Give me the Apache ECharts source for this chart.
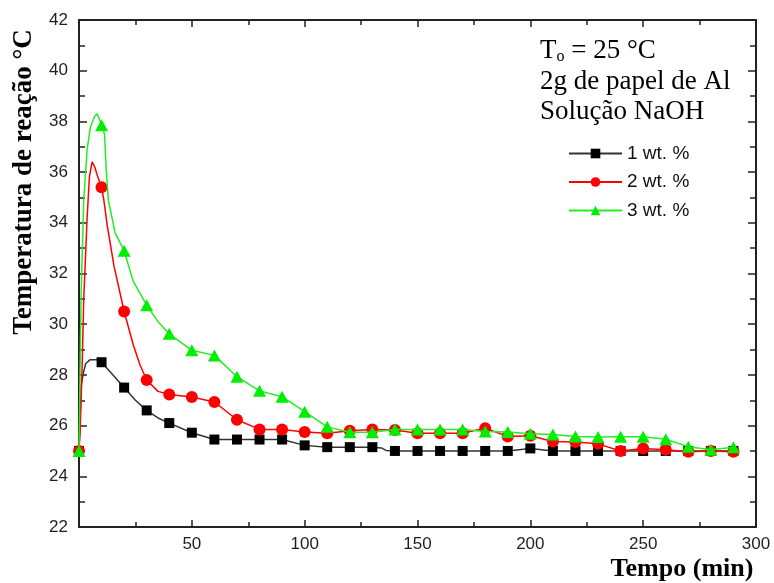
<!DOCTYPE html>
<html><head><meta charset="utf-8">
<script src="https://cdn.jsdelivr.net/npm/echarts@6/dist/echarts.min.js"></script>
<style>html,body{margin:0;padding:0;background:#fff}#c{width:774px;height:583px}</style>
</head><body><div id="c"></div>
<script>
// ---- data ----
const seriesNames = ['1 wt. %', '2 wt. %', '3 wt. %'];
const markerTimes = [0,10,20,30,40,50,60,70,80,90,100,110,120,130,140,150,160,170,180,190,200,210,220,230,240,250,260,270,280,290];
const temp1wt = [25.0,28.5,27.5,26.6,26.1,25.72,25.45,25.45,25.45,25.45,25.22,25.15,25.15,25.15,25.0,25.0,25.0,25.0,25.0,25.0,25.1,25.0,25.0,25.0,25.0,25.0,25.0,25.0,25.0,25.0];
const temp2wt = [25.0,35.4,30.5,27.8,27.23,27.13,26.93,26.23,25.85,25.85,25.75,25.7,25.8,25.85,25.83,25.7,25.7,25.7,25.9,25.57,25.6,25.37,25.35,25.28,25.0,25.1,25.05,24.97,25.0,24.97];
const temp3wt = [25.0,37.85,32.9,30.75,29.62,28.97,28.77,27.93,27.37,27.14,26.55,25.95,25.74,25.74,25.85,25.85,25.85,25.85,25.77,25.75,25.68,25.65,25.57,25.55,25.56,25.56,25.46,25.17,25.05,25.15];
// extra points of the continuous curves between markers [time, temperature]
const curve1Extra = [[1,27.6],[2,28.1],[3,28.45],[5,28.6],[8,28.6],[25,27.0],[35,26.3],[134,25.12],[136,25.02]];
const curve2Extra = [[0.5,25.8],[1.4,28.3],[2.1,31.0],[3.6,34.2],[4.6,35.8],[5.8,36.4],[7,36.2],[8,35.9],[11,34.9],[12.5,33.9],[15.5,32.3],[24,29.2],[27,28.4],[35,27.35]];
const curve3Extra = [[0.9,31.0],[2.1,34.9],[3.6,36.9],[5.1,37.8],[7,38.2],[8,38.3],[9,38.1],[11.3,37.5],[12,36.2],[13,34.9],[16,33.6],[24,31.7],[35,30.1]];
const xTicks = {min: 0, max: 300, step: 50};
const yTicks = {min: 22, max: 42, step: 2};
const noteLines = ['2g de papel de Al', 'Solução NaOH'];

function curve(vals, extra) {
  const pts = markerTimes.map((t, i) => [t, vals[i]]).concat(extra);
  pts.sort((a, b) => a[0] - b[0]);
  return pts;
}
function markers(vals) { return markerTimes.map((t, i) => [t, vals[i]]); }

const colors = ['#000000', '#ff0000', '#00ee00'];
const lineColors = ['#333333', '#ff0000', '#22ee22'];
const symbols = ['rect', 'circle', 'triangle'];
const symSizes = [10, 12, [13, 12]];
const vals = [temp1wt, temp2wt, temp3wt];
const extras = [curve1Extra, curve2Extra, curve3Extra];

const series = [];
for (let k = 0; k < 3; k++) {
  series.push({
    name: seriesNames[k], type: 'line', data: curve(vals[k], extras[k]),
    symbol: symbols[k], showSymbol: false, symbolSize: 10,
    itemStyle: {color: colors[k]},
    lineStyle: {color: lineColors[k], width: 1.5},
    silent: true, z: 2 + k * 2
  });
  series.push({
    name: seriesNames[k] + ' pts', type: 'scatter', data: markers(vals[k]),
    symbol: symbols[k], symbolSize: symSizes[k],
    itemStyle: {color: colors[k], opacity: 1},
    silent: true, z: 3 + k * 2
  });
}

const axisCol = '#222';
const lblFont = {fontSize: 17, fontFamily: 'Liberation Sans', color: '#1e1e28'};
function xAx(pos, showLabel) {
  return {
    type: 'value', position: pos, min: xTicks.min, max: xTicks.max, interval: xTicks.step,
    axisLine: {show: true, onZero: false, lineStyle: {color: axisCol, width: 2}},
    axisTick: {show: true, inside: true, length: 7, lineStyle: {color: axisCol, width: 1.5}},
    minorTick: {show: true, splitNumber: 2, length: 5, lineStyle: {color: axisCol, width: 1.5}},
    axisLabel: Object.assign({show: showLabel, margin: 9, formatter: v => v === 0 ? '' : String(v)}, lblFont),
    splitLine: {show: false}, minorSplitLine: {show: false}
  };
}
function yAx(pos, showLabel) {
  return {
    type: 'value', position: pos, min: yTicks.min, max: yTicks.max, interval: yTicks.step,
    axisLine: {show: true, onZero: false, lineStyle: {color: axisCol, width: 2}},
    axisTick: {show: true, inside: true, length: 8, lineStyle: {color: axisCol, width: 1.5}},
    minorTick: {show: true, splitNumber: 2, length: 6, lineStyle: {color: axisCol, width: 1.5}},
    axisLabel: Object.assign({show: showLabel, margin: 11}, lblFont),
    splitLine: {show: false}, minorSplitLine: {show: false}
  };
}

const chart = echarts.init(document.getElementById('c'), null, {renderer: 'canvas'});
chart.setOption({
  animation: false,
  backgroundColor: '#ffffff',
  grid: {left: 79, right: 18, top: 20, bottom: 56, containLabel: false},
  xAxis: [xAx('bottom', true), xAx('top', false)],
  yAxis: [yAx('left', true), yAx('right', false)],
  legend: {
    data: seriesNames, orient: 'vertical', left: 568, top: 144,
    itemWidth: 53, itemHeight: 12, itemGap: 9.5, padding: 0,
    textStyle: {fontSize: 19, fontFamily: 'Liberation Sans', color: '#111', lineHeight: 19},
    selectedMode: false
  },
  graphic: [
    {type: 'text', x: 24, y: 182, rotation: Math.PI / 2, silent: true,
     style: {text: 'Temperatura de reação °C', fontSize: 27, fontWeight: 'bold', fontFamily: 'Liberation Serif', fill: '#000', align: 'center', verticalAlign: 'middle'}},
    {type: 'text', x: 682, y: 569, silent: true,
     style: {text: 'Tempo (min)', fontSize: 26, fontWeight: 'bold', fontFamily: 'Liberation Serif', fill: '#000', align: 'center', verticalAlign: 'middle'}},
    {type: 'text', x: 540, y: 50.5, silent: true,
     style: {text: '{a|T}{s|o}{a| = 25 °C}', align: 'left', verticalAlign: 'middle', fill: '#000',
       rich: {a: {fontSize: 27, fontFamily: 'Liberation Serif', lineHeight: 30, fill: '#000'},
              s: {fontSize: 16, fontFamily: 'Liberation Serif', lineHeight: 30, fill: '#000', padding: [12, 0, 0, 0]}}}},
    {type: 'text', x: 540, y: 82, silent: true,
     style: {text: noteLines[0], fontSize: 27, fontFamily: 'Liberation Serif', fill: '#000', align: 'left', verticalAlign: 'middle'}},
    {type: 'text', x: 540, y: 112, silent: true,
     style: {text: noteLines[1], fontSize: 27, fontFamily: 'Liberation Serif', fill: '#000', align: 'left', verticalAlign: 'middle'}}
  ],
  series: series
});
</script>
</body></html>
